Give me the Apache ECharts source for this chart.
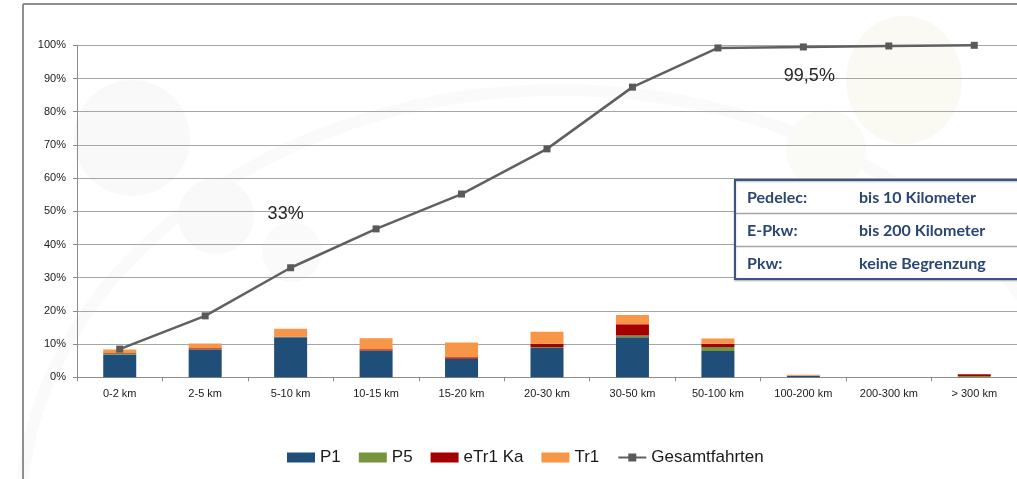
<!DOCTYPE html>
<html>
<head>
<meta charset="utf-8">
<script src="https://cdn.jsdelivr.net/npm/echarts@6/dist/echarts.min.js"></script>
<style>
  html, body { margin: 0; padding: 0; background: #ffffff; }
  #chart { width: 1017px; height: 479px; }
</style>
</head>
<body>
<div id="chart"></div>
<script>
// Distance classes (trip length)
var categories = ['0-2 km', '2-5 km', '5-10 km', '10-15 km', '15-20 km', '20-30 km',
                  '30-50 km', '50-100 km', '100-200 km', '200-300 km', '> 300 km'];

// Share of trips per distance class, in percent (stacked bars)
var p1    = [6.9, 8.4, 12.1, 8.0, 5.5, 8.8, 12.1, 7.9, 0.5, 0, 0];
var p5    = [0.3, 0.05, 0.05, 0.05, 0.05, 0.3, 0.5, 1.2, 0, 0, 0.4];
var eTr1  = [0.1, 0.3, 0.1, 0.4, 0.5, 1.0, 3.4, 1.0, 0, 0, 0.5];
var tr1   = [1.1, 1.4, 2.4, 3.3, 4.4, 3.6, 2.8, 1.6, 0.3, 0, 0];

// Cumulative share of all trips, in percent
var gesamt = [8.5, 18.5, 33, 44.7, 55.2, 68.8, 87.4, 99.2, 99.5, 99.8, 100];

// Points of the cumulative line that carry a value label, with label offsets
var labelledPoints = { 2: [-5, -54], 8: [6, 29] };

// Range table shown in the box
var rangeRows = [
  ['Pedelec:', 'bis 10 Kilometer'],
  ['E-Pkw:', 'bis 200 Kilometer'],
  ['Pkw:', 'keine Begrenzung']
];

var FONT = '"Liberation Sans", Arial, sans-serif';

var lineData = gesamt.map(function (v, i) {
  if (labelledPoints[i]) {
    return {
      value: v,
      label: {
        show: true,
        position: 'inside',
        offset: labelledPoints[i],
        fontFamily: FONT,
        fontSize: 18,
        color: '#262626',
        formatter: function (p) { return String(p.value).replace('.', ',') + '%'; }
      }
    };
  }
  return v;
});

// Background decoration and the range table
var graphics = [
  { type: 'line', z: -10, shape: { x1: 23, y1: 4, x2: 1017, y2: 4 }, style: { stroke: '#8f8f8f', lineWidth: 2 } },
  { type: 'line', z: -10, shape: { x1: 23, y1: 4, x2: 23, y2: 479 }, style: { stroke: '#8f8f8f', lineWidth: 2 } },
  { type: 'ellipse', z: -12, shape: { cx: 560, cy: 520, rx: 540, ry: 430 }, style: { fill: 'none', stroke: '#fafafa', lineWidth: 12 } },
  { type: 'circle', z: -11, shape: { cx: 132, cy: 138, r: 58 }, style: { fill: '#f9f9f9' } },
  { type: 'circle', z: -11, shape: { cx: 216, cy: 216, r: 38 }, style: { fill: '#f9f9f9' } },
  { type: 'circle', z: -11, shape: { cx: 292, cy: 252, r: 30 }, style: { fill: '#fafafa' } },
  { type: 'circle', z: -11, shape: { cx: 826, cy: 150, r: 40 }, style: { fill: '#fafaf6' } },
  { type: 'ellipse', z: -11, shape: { cx: 904, cy: 80, rx: 58, ry: 64 }, style: { fill: '#fafaf3' } },
  { type: 'rect', z: 100, shape: { x: 735, y: 180, width: 290, height: 99 },
    style: { fill: '#ffffff', stroke: '#3b557f', lineWidth: 2, shadowColor: 'rgba(0,0,0,0.25)', shadowBlur: 2, shadowOffsetX: 0, shadowOffsetY: 1 } },
  { type: 'line', z: 101, shape: { x1: 736, y1: 213.5, x2: 1017, y2: 213.5 }, style: { stroke: '#a6a6a6', lineWidth: 1.5 } },
  { type: 'line', z: 101, shape: { x1: 736, y1: 246.5, x2: 1017, y2: 246.5 }, style: { stroke: '#a6a6a6', lineWidth: 1.5 } }
];
var rowCenters = [200, 233, 265.5];
rangeRows.forEach(function (row, i) {
  graphics.push({ type: 'text', z: 102, left: 747, top: rowCenters[i] - 10,
    style: { text: row[0], font: 'bold 16px Lato, "Open Sans", sans-serif', fill: '#2a4674' } });
  graphics.push({ type: 'text', z: 102, left: 859, top: rowCenters[i] - 10,
    style: { text: row[1], font: 'bold 16px Lato, "Open Sans", sans-serif', fill: '#2a4674' } });
});

var chart = echarts.init(document.getElementById('chart'), null, { renderer: 'canvas' });

chart.setOption({
  animation: false,
  backgroundColor: '#ffffff',
  textStyle: { fontFamily: FONT },
  grid: { left: 77, right: 0, top: 45.3, bottom: 101.7, containLabel: false },
  legend: {
    left: 282,
    top: 444,
    itemWidth: 28,
    itemHeight: 10,
    itemGap: 18,
    textStyle: { fontFamily: FONT, fontSize: 17, color: '#1a1a1a' },
    data: [
      { name: 'P1', icon: 'rect' },
      { name: 'P5', icon: 'rect' },
      { name: 'eTr1 Ka', icon: 'rect' },
      { name: 'Tr1', icon: 'rect' },
      { name: 'Gesamtfahrten' }
    ]
  },
  xAxis: {
    type: 'category',
    data: categories,
    axisLine: { lineStyle: { color: '#8c8c8c', width: 1 } },
    axisTick: { show: true, length: 4, lineStyle: { color: '#8c8c8c' } },
    axisLabel: { fontFamily: FONT, fontSize: 11, color: '#1a1a1a', margin: 11, interval: 0 }
  },
  yAxis: {
    type: 'value',
    min: 0,
    max: 100,
    interval: 10,
    axisLine: { show: true, lineStyle: { color: '#8c8c8c', width: 1 } },
    axisTick: { show: true, length: 4, lineStyle: { color: '#8c8c8c' } },
    axisLabel: { fontFamily: FONT, fontSize: 11, color: '#1a1a1a', margin: 11, formatter: '{value}%' },
    splitLine: { lineStyle: { color: '#a6a6a6', width: 1 } }
  },
  graphic: graphics,
  series: [
    { name: 'P1', type: 'bar', stack: 'fahrten', barWidth: 33, data: p1, itemStyle: { color: '#1f4e79' } },
    { name: 'P5', type: 'bar', stack: 'fahrten', barWidth: 33, data: p5, itemStyle: { color: '#77933c' } },
    { name: 'eTr1 Ka', type: 'bar', stack: 'fahrten', barWidth: 33, data: eTr1, itemStyle: { color: '#a50000' } },
    { name: 'Tr1', type: 'bar', stack: 'fahrten', barWidth: 33, data: tr1, itemStyle: { color: '#f79646' } },
    {
      name: 'Gesamtfahrten', type: 'line', data: lineData, clip: false, z: 5,
      symbol: 'rect', symbolSize: 7,
      lineStyle: { color: '#606060', width: 2.5 },
      itemStyle: { color: '#595959' }
    }
  ]
});
</script>
</body>
</html>
